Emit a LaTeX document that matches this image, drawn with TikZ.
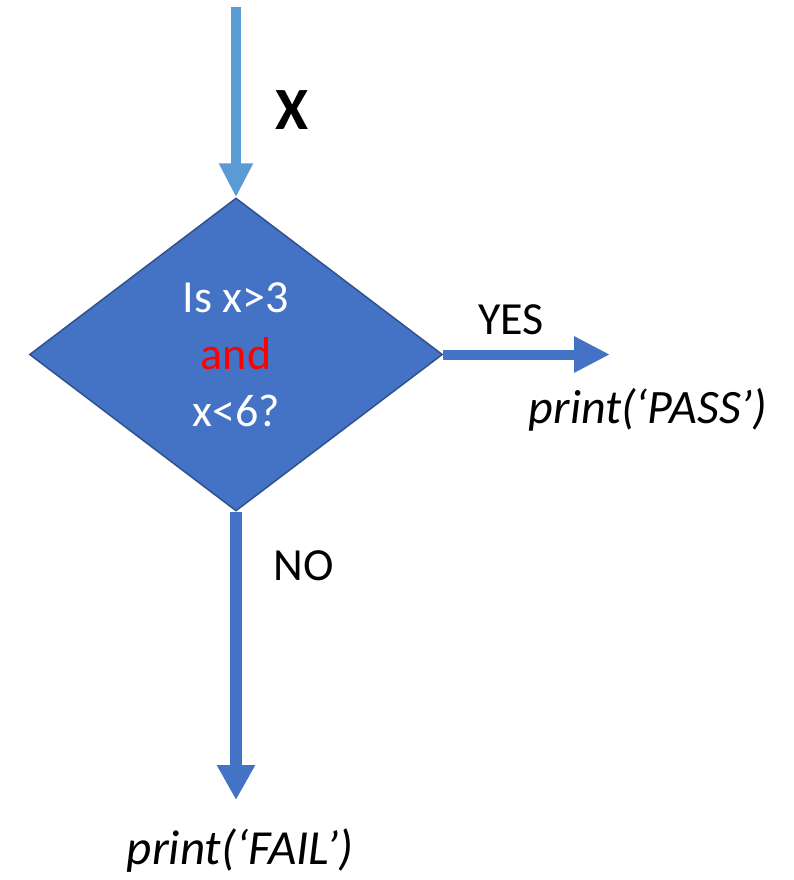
\documentclass[tikz,border=0pt]{standalone}
\usepackage{fontspec}
\setmainfont{Carlito}
\usetikzlibrary{shapes.geometric,arrows.meta}
\definecolor{lightarrow}{HTML}{5B9BD5}
\definecolor{mainblue}{HTML}{4472C4}
\definecolor{darkedge}{HTML}{2F528F}
\tikzset{
  decision/.style={diamond, fill=mainblue, draw=darkedge, line width=1.5pt,
    minimum width=413pt, minimum height=313pt, inner sep=0pt, aspect=1.32,
    text=white, align=center, font=\fontsize{46}{57}\selectfont},
  fatarrow/.style={line width=10pt, draw=mainblue,
    -{Triangle[length=36pt,width=34pt]}},
  lbl/.style={font=\fontsize{46}{52}\selectfont, inner sep=0pt},
  outlbl/.style={font=\fontsize{48}{54}\selectfont\itshape, inner sep=0pt}
}
\begin{document}
\begin{tikzpicture}[x=1pt,y=-1pt]
\useasboundingbox (0,0) rectangle (794,880);
\node[decision] (d) at (236,354.5) {Is x>3\\ \textcolor{red}{and}\\ x<6?};
\coordinate (top) at (236,7);
\coordinate (yesend) at (610,354.5);
\coordinate (noend) at (236,800);
\draw[fatarrow, draw=lightarrow, -{Triangle[length=34pt,width=32pt]}] (top) -- (d.north);
\draw[fatarrow] (d.east) -- (yesend);
\draw[fatarrow, line width=12pt, -{Triangle[length=35pt,width=36pt]}] (d.south) -- (noend);
\node[font=\fontsize{60}{70}\selectfont\bfseries, inner sep=0pt] (x) at (292,110) {X};
\node[lbl] (yes) at (511,320) {YES};
\node[outlbl] (pass) at (648,410) {print(‘PASS’)};
\node[lbl] (no) at (304,566) {NO};
\node[outlbl, font=\fontsize{49}{54}\selectfont\itshape] (fail) at (240,851) {print(‘FAIL’)};
\end{tikzpicture}
\end{document}
